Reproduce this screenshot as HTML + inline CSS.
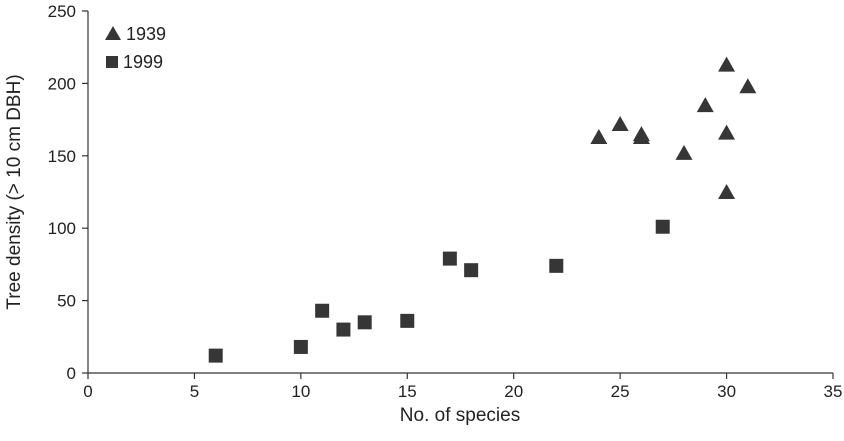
<!DOCTYPE html>
<html><head><meta charset="utf-8"><style>
html,body{margin:0;padding:0;background:#fff;}
svg{display:block;font-family:"Liberation Sans",Arial,sans-serif;}
</style></head><body>
<svg id="chart" width="844" height="441" viewBox="0 0 844 441">
<g id="axes"></g>
<g id="marks"></g>
<g>
<polygon points="105,40 113,26 121,40" fill="#363636"/>
<text x="126" y="40" font-size="18" fill="#222">1939</text>
<rect x="106" y="56" width="12" height="12" fill="#363636"/>
<text x="123" y="68" font-size="18" fill="#222">1999</text>
</g>
<text x="460" y="421" font-size="19" text-anchor="middle" fill="#222">No. of species</text>
<text transform="translate(20,192) rotate(-90)" font-size="19" text-anchor="middle" fill="#222">Tree density (&gt; 10 cm DBH)</text>
</svg>
<script>
const xTicks=[0,5,10,15,20,25,30,35];
const yTicks=[0,50,100,150,200,250];
const x1939=[24,25,26,26,28,29,30,31,30,30];
const y1939=[163,172,165,163,152,185,213,198,166,125];
const x1999=[6,10,11,12,13,15,17,18,22,27];
const y1999=[12,18,43,30,35,36,79,71,74,101];
const X0=88,X1=833,Y0=373,Y1=11;
const sx=v=>X0+(v-0)/35*(X1-X0);
const sy=v=>Y0-(v-0)/250*(Y0-Y1);
const NS='http://www.w3.org/2000/svg';
const axes=document.getElementById('axes'),marks=document.getElementById('marks');
function mk(tag,attrs,parent){const e=document.createElementNS(NS,tag);for(const k in attrs)e.setAttribute(k,attrs[k]);parent.appendChild(e);return e;}
let l=mk('line',{x1:X0,y1:Y1,x2:X0,y2:Y0,stroke:'#333','stroke-width':1.2},axes);


l=mk('line',{x1:X0,y1:Y0,x2:X1,y2:Y0,stroke:'#333','stroke-width':1.2},axes);


xTicks.forEach(t=>{
 const x=sx(t);
 const tk=mk('line',{x1:x,y1:Y0,x2:x,y2:Y0+6,stroke:'#333','stroke-width':1.2},axes);
 
 
 const tx=mk('text',{x:x,y:Y0+24,'font-size':17,'text-anchor':'middle',fill:'#222'},axes);
 tx.textContent=t;
 
 
});
yTicks.forEach(t=>{
 const y=sy(t);
 const tk=mk('line',{x1:X0-6,y1:y,x2:X0,y2:y,stroke:'#333','stroke-width':1.2},axes);
 
 
 const tx=mk('text',{x:X0-12,y:y+6,'font-size':17,'text-anchor':'end',fill:'#222'},axes);
 tx.textContent=t;
 
 
});
x1939.forEach((v,i)=>{
 const cx=sx(v),cy=sy(y1939[i]);
 const p=mk('polygon',{points:`${cx-8.5},${cy+7} ${cx},${cy-8} ${cx+8.5},${cy+7}`,fill:'#363636'},marks);
 
 
});
x1999.forEach((v,i)=>{
 const cx=sx(v),cy=sy(y1999[i]);
 const r=mk('rect',{x:cx-7,y:cy-7,width:14,height:14,fill:'#363636'},marks);
 
 
});
</script>
</body></html>
